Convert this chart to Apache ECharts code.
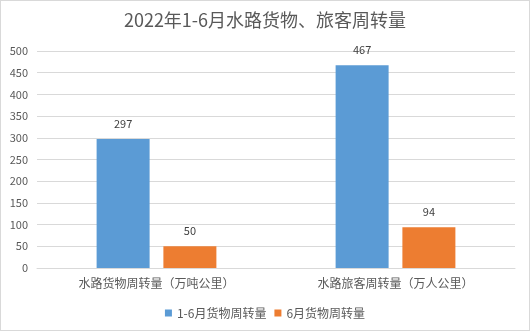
<!DOCTYPE html>
<html><head><meta charset="utf-8">
<script src="https://cdn.jsdelivr.net/npm/echarts@6/dist/echarts.min.js"></script>
<style>html,body{margin:0;padding:0;background:#fff}#c{width:530px;height:331px;box-sizing:border-box;border:1px solid #d9d9d9}</style>
</head><body><div id="c"></div>
<script>
const title = '2022年1-6月水路货物、旅客周转量';
const categories = ['水路货物周转量（万吨公里）', '水路旅客周转量（万人公里）'];
const seriesNames = ['1-6月货物周转量', '6月货物周转量'];
const totalValues = [297, 467];
const juneValues = [50, 94];
const yTicks = [0, 50, 100, 150, 200, 250, 300, 350, 400, 450, 500];

const chart = echarts.init(document.getElementById('c'));
const font = "'Microsoft YaHei','Noto Sans CJK SC',sans-serif";
chart.setOption({
  animation: false,
  title: { text: title, left: 'center', top: 5, textStyle: { fontFamily: font, fontSize: 18, fontWeight: 'normal', color: '#595959' } },
  legend: { bottom: 6, itemWidth: 7, itemHeight: 7, itemGap: 8, icon: 'rect', textStyle: { fontFamily: font, fontSize: 12, color: '#595959' }, data: seriesNames },
  grid: { left: 36, right: 14, top: 50, bottom: 62 },
  xAxis: { type: 'category', data: categories, axisTick: { show: false }, axisLine: { lineStyle: { color: '#d9d9d9' } }, axisLabel: { fontFamily: font, fontSize: 12, color: '#595959', margin: 9 } },
  yAxis: { type: 'value', min: yTicks[0], max: yTicks[yTicks.length - 1], interval: 50, axisLine: { show: false }, axisTick: { show: false }, splitLine: { lineStyle: { color: '#d9d9d9' } }, axisLabel: { fontFamily: font, fontSize: 11, color: '#595959', margin: 9 } },
  series: [
    { name: seriesNames[0], type: 'bar', data: totalValues, barWidth: 53, barGap: '26%', itemStyle: { color: '#5b9bd5' }, label: { show: true, position: 'top', distance: 10, fontFamily: font, fontSize: 11, color: '#404040' } },
    { name: seriesNames[1], type: 'bar', data: juneValues, barWidth: 53, itemStyle: { color: '#ed7d31' }, label: { show: true, position: 'top', distance: 10, fontFamily: font, fontSize: 11, color: '#404040' } }
  ]
});
</script></body></html>
